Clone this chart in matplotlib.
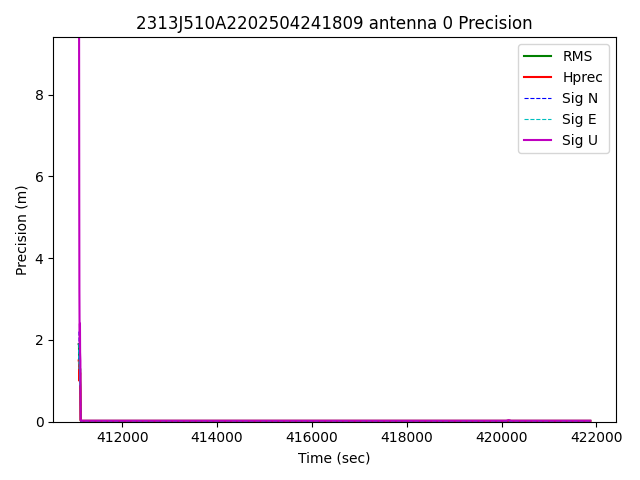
import matplotlib
matplotlib.use("Agg")
import matplotlib.pyplot as plt

# --- datos ---
titulo = "2313J510A2202504241809 antenna 0 Precision"

tiempo = [411085, 411090, 411093, 411096, 411099, 411102, 411105, 411108,
          411111, 411114, 411117, 411120, 411125, 411130, 411140, 412000,
          414000, 416000, 418000, 420100, 420150, 420200, 420300, 421870]

rms = [1.9, 1.9, 1.6, 1.4, 1.3, 1.5, 1.2, 1.4, 1.1, 1.3, 1.0, 0.9, 0.05, 0.02,
       0.02, 0.02, 0.02, 0.02, 0.02, 0.02, 0.025, 0.02, 0.02, 0.02]
hprec = [1.5, 1.5, 1.3, 1.2, 1.0, 1.4, 1.1, 1.3, 1.0, 1.2, 0.9, 0.8, 0.04, 0.02,
         0.02, 0.02, 0.02, 0.02, 0.02, 0.02, 0.025, 0.02, 0.02, 0.02]
sig_n = [2.2, 2.2, 1.8, 1.5, 1.7, 1.2, 1.6, 1.0, 1.5, 1.1, 1.3, 0.9, 0.03, 0.015,
         0.015, 0.015, 0.015, 0.015, 0.015, 0.015, 0.02, 0.015, 0.015, 0.015]
sig_e = [1.9, 1.9, 1.6, 1.3, 1.8, 1.1, 1.5, 0.9, 1.4, 1.0, 1.2, 0.88, 0.03, 0.015,
         0.015, 0.015, 0.015, 0.015, 0.015, 0.015, 0.02, 0.015, 0.015, 0.015]
sig_u = [14.0, 12.0, 9.0, 5.5, 3.2, 2.5, 2.2, 1.9, 2.4, 1.7, 1.6, 1.5, 0.06, 0.025,
         0.025, 0.025, 0.025, 0.025, 0.025, 0.025, 0.04, 0.025, 0.025, 0.025]

fig, ax = plt.subplots(figsize=(6.4, 4.8), dpi=100)

ax.plot(tiempo, rms, color='g', label='RMS')
ax.plot(tiempo, hprec, color='r', label='Hprec')
ax.plot(tiempo, sig_n, color='b', linestyle='--', linewidth=0.8, label='Sig N')
ax.plot(tiempo, sig_e, color='c', linestyle='--', linewidth=0.8, label='Sig E')
ax.plot(tiempo, sig_u, color='m', label='Sig U')

ax.set_ylim(0, 9.4)
ax.set_title(titulo)
ax.set_xlabel("Time (sec)")
ax.set_ylabel("Precision (m)")
ax.legend(loc='upper right')

fig.tight_layout()
fig.savefig("out.png", dpi=100)
